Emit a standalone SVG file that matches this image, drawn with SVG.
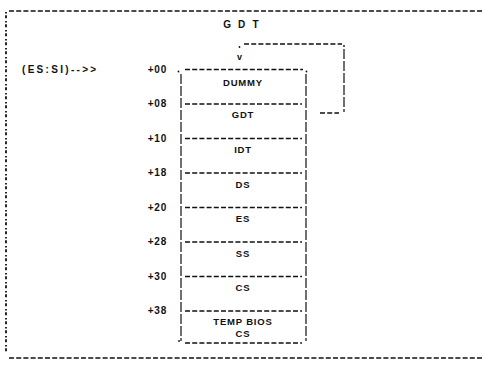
<svg xmlns="http://www.w3.org/2000/svg" width="483" height="367" viewBox="0 0 483 367">
<style>
text{font-family:"Liberation Sans","DejaVu Sans",sans-serif;font-weight:bold;font-size:9.5px;fill:#111;letter-spacing:0.8px}
.c{text-anchor:middle}
.r{text-anchor:end;font-size:10px}
.h{stroke:#111;stroke-width:1.6;stroke-dasharray:5 2.2;fill:none}
.v{stroke:#111;stroke-width:1.2;stroke-dasharray:10 2;fill:none}
.semi{stroke:#111;stroke-width:1.8;stroke-dasharray:1.6 1.6 3 2.8;fill:none}
.dot{fill:#111}
</style>
<rect width="483" height="367" fill="#fff"/>
<g id="frame">
<path class="h" d="M9 11H483"/>
<path class="h" d="M9 358H483"/>
<path class="semi" d="M6 12V352"/>
</g>
<text class="c" x="242" y="28" style="letter-spacing:2.2px;font-size:10px">G D T</text>
<g id="pointer">
<text x="22" y="72.5" textLength="75" lengthAdjust="spacing" style="font-size:10px">(ES:SI)--&gt;&gt;</text>
</g>
<g id="offsets">
<text class="r" x="167" y="72.5">+00</text>
<text class="r" x="167" y="107">+08</text>
<text class="r" x="167" y="141.5">+10</text>
<text class="r" x="167" y="176">+18</text>
<text class="r" x="167" y="210.5">+20</text>
<text class="r" x="167" y="245">+28</text>
<text class="r" x="167" y="279.5">+30</text>
<text class="r" x="167" y="314">+38</text>
</g>
<g id="box">
<path class="h" d="M185 69.5H303"/>
<circle class="dot" cx="178.5" cy="71.5" r="0.9"/>
<circle class="dot" cx="306.5" cy="71.5" r="0.9"/>
<path class="v" d="M181 74V341"/>
<path class="v" d="M306 74V341"/>
<path class="h" d="M185 343H302"/>
<circle class="dot" cx="179" cy="341" r="0.9"/>
</g>
<g id="dividers">
<path class="h" d="M185 104H302"/>
<path class="h" d="M185 138.5H302"/>
<path class="h" d="M185 173H302"/>
<path class="h" d="M185 207.5H302"/>
<path class="h" d="M185 242H302"/>
<path class="h" d="M185 276.5H302"/>
<path class="h" d="M185 311H302"/>
</g>
<g id="n-dummy"><text class="c" x="243" y="86">DUMMY</text></g>
<g id="n-gdt"><text class="c" x="243" y="118">GDT</text></g>
<g id="n-idt"><text class="c" x="243" y="153">IDT</text></g>
<g id="n-ds"><text class="c" x="243" y="187.5">DS</text></g>
<g id="n-es"><text class="c" x="243" y="222">ES</text></g>
<g id="n-ss"><text class="c" x="243" y="256.5">SS</text></g>
<g id="n-cs"><text class="c" x="243" y="291">CS</text></g>
<g id="n-temp"><text class="c" x="243" y="325">TEMP BIOS</text><text class="c" x="243" y="337">CS</text></g>
<g id="connectors">
<path class="h" d="M320 113H339"/>
<path class="v" d="M344 49V112"/>
<path class="h" d="M244 44H342"/>
<circle class="dot" cx="344" cy="46" r="0.9"/>
<circle class="dot" cx="239.5" cy="47" r="0.9"/>
<text class="c" x="240" y="60" style="font-size:9px">v</text>
</g>
</svg>
